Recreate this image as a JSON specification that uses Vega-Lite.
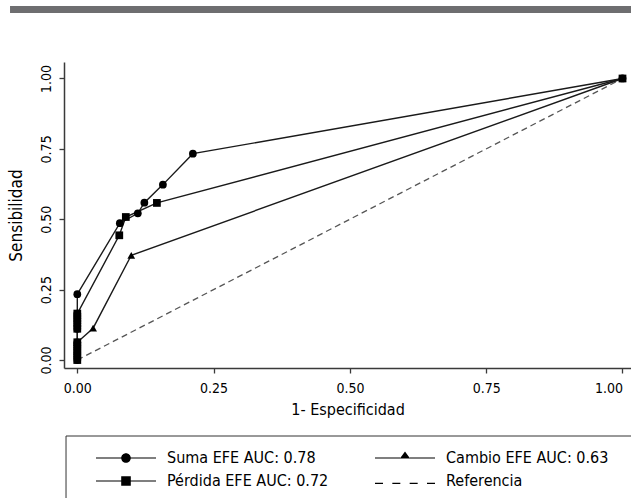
{
  "$schema": "https://vega.github.io/schema/vega-lite/v6.json",
  "width": 567,
  "height": 306,
  "autosize": {"type": "none"},
  "padding": {"left": 64, "top": 62, "right": 0, "bottom": 130},
  "background": "white",
  "config": {
    "view": {"stroke": null},
    "font": "Liberation Sans Narrow, DejaVu Sans Condensed, sans-serif"
  },
  "datasets": {
    "roc": [
      {"series": "Cambio EFE AUC: 0.63", "fpr": 0, "tpr": 0},
      {"series": "Cambio EFE AUC: 0.63", "fpr": 0, "tpr": 0.032},
      {"series": "Cambio EFE AUC: 0.63", "fpr": 0, "tpr": 0.063},
      {"series": "Cambio EFE AUC: 0.63", "fpr": 0.029, "tpr": 0.113},
      {"series": "Cambio EFE AUC: 0.63", "fpr": 0.099, "tpr": 0.372},
      {"series": "Cambio EFE AUC: 0.63", "fpr": 1, "tpr": 1},
      {"series": "Suma EFE AUC: 0.78", "fpr": 0, "tpr": 0},
      {"series": "Suma EFE AUC: 0.78", "fpr": 0, "tpr": 0.016},
      {"series": "Suma EFE AUC: 0.78", "fpr": 0, "tpr": 0.032},
      {"series": "Suma EFE AUC: 0.78", "fpr": 0, "tpr": 0.048},
      {"series": "Suma EFE AUC: 0.78", "fpr": 0, "tpr": 0.063},
      {"series": "Suma EFE AUC: 0.78", "fpr": 0, "tpr": 0.111},
      {"series": "Suma EFE AUC: 0.78", "fpr": 0, "tpr": 0.13},
      {"series": "Suma EFE AUC: 0.78", "fpr": 0, "tpr": 0.148},
      {"series": "Suma EFE AUC: 0.78", "fpr": 0, "tpr": 0.165},
      {"series": "Suma EFE AUC: 0.78", "fpr": 0, "tpr": 0.234},
      {"series": "Suma EFE AUC: 0.78", "fpr": 0.078, "tpr": 0.486},
      {"series": "Suma EFE AUC: 0.78", "fpr": 0.111, "tpr": 0.521},
      {"series": "Suma EFE AUC: 0.78", "fpr": 0.123, "tpr": 0.559},
      {"series": "Suma EFE AUC: 0.78", "fpr": 0.157, "tpr": 0.623},
      {"series": "Suma EFE AUC: 0.78", "fpr": 0.212, "tpr": 0.733},
      {"series": "Suma EFE AUC: 0.78", "fpr": 1, "tpr": 1},
      {"series": "Pérdida EFE AUC: 0.72", "fpr": 0, "tpr": 0},
      {"series": "Pérdida EFE AUC: 0.72", "fpr": 0, "tpr": 0.016},
      {"series": "Pérdida EFE AUC: 0.72", "fpr": 0, "tpr": 0.032},
      {"series": "Pérdida EFE AUC: 0.72", "fpr": 0, "tpr": 0.048},
      {"series": "Pérdida EFE AUC: 0.72", "fpr": 0, "tpr": 0.063},
      {"series": "Pérdida EFE AUC: 0.72", "fpr": 0, "tpr": 0.111},
      {"series": "Pérdida EFE AUC: 0.72", "fpr": 0, "tpr": 0.13},
      {"series": "Pérdida EFE AUC: 0.72", "fpr": 0, "tpr": 0.148},
      {"series": "Pérdida EFE AUC: 0.72", "fpr": 0, "tpr": 0.165},
      {"series": "Pérdida EFE AUC: 0.72", "fpr": 0.077, "tpr": 0.443},
      {"series": "Pérdida EFE AUC: 0.72", "fpr": 0.089, "tpr": 0.508},
      {"series": "Pérdida EFE AUC: 0.72", "fpr": 0.146, "tpr": 0.558},
      {"series": "Pérdida EFE AUC: 0.72", "fpr": 1, "tpr": 1},
      {"series": "Referencia", "fpr": 0, "tpr": 0},
      {"series": "Referencia", "fpr": 1, "tpr": 1}
    ],
    "legend": [
      {"series": "Suma EFE AUC: 0.78"},
      {"series": "Pérdida EFE AUC: 0.72"},
      {"series": "Cambio EFE AUC: 0.63"},
      {"series": "Referencia"}
    ]
  },
  "layer": [
    {
      "data": {"values": [{"part": "banner"}]},
      "mark": {"type": "rule", "color": "#6e6e70", "strokeWidth": 7, "clip": false},
      "encoding": {
        "x": {"datum": -0.1234, "type": "quantitative", "scale": {"domain": [-0.0244, 1.0156], "nice": false, "zero": false}},
        "x2": {"datum": 1.05},
        "y": {"datum": 1.2451, "type": "quantitative", "scale": {"domain": [-0.0284, 1.0586], "nice": false, "zero": false}}
      }
    },
    {
      "data": {"values": [{"part": "box"}]},
      "mark": {"type": "rect", "fill": "white", "fillOpacity": 0, "stroke": "#333333", "strokeWidth": 1, "clip": false},
      "encoding": {
        "x": {"datum": -0.0207, "type": "quantitative", "scale": {"domain": [-0.0244, 1.0156], "nice": false, "zero": false}},
        "x2": {"datum": 1.2},
        "y": {"datum": -0.27, "type": "quantitative", "scale": {"domain": [-0.0284, 1.0586], "nice": false, "zero": false}},
        "y2": {"datum": -1}
      }
    },
    {
      "data": {"name": "roc"},
      "transform": [{"filter": "datum.series === 'Referencia'"}],
      "mark": {"type": "line", "color": "#555555", "strokeWidth": 1.3, "strokeDash": [6, 4]},
      "encoding": {
        "x": {"field": "fpr", "type": "quantitative", "scale": {"domain": [-0.0244, 1.0156], "nice": false, "zero": false}},
        "y": {"field": "tpr", "type": "quantitative", "scale": {"domain": [-0.0284, 1.0586], "nice": false, "zero": false}}
      }
    },
    {
      "data": {"name": "roc"},
      "transform": [{"filter": "datum.series !== 'Referencia'"}],
      "mark": {"type": "line", "color": "#1a1a1a", "strokeWidth": 1.4},
      "encoding": {
        "x": {
          "field": "fpr",
          "type": "quantitative",
          "scale": {"domain": [-0.0244, 1.0156], "nice": false, "zero": false},
          "axis": {
            "values": [0, 0.25, 0.5, 0.75, 1],
            "format": ".2f",
            "title": "1- Especificidad",
            "grid": false,
            "domainColor": "#3a3a3a",
            "domainWidth": 1.5,
            "tickColor": "#3a3a3a",
            "tickWidth": 1.3,
            "tickSize": 5,
            "labelFontSize": 14,
            "labelColor": "black",
            "labelPadding": 8,
            "labelFlush": 10,
            "labelOverlap": false,
            "titleFontSize": 16,
            "titleFontWeight": "normal",
            "titleColor": "black",
            "titlePadding": 6
          }
        },
        "y": {
          "field": "tpr",
          "type": "quantitative",
          "scale": {"domain": [-0.0284, 1.0586], "nice": false, "zero": false},
          "axis": {
            "values": [0, 0.25, 0.5, 0.75, 1],
            "format": ".2f",
            "title": "Sensibilidad",
            "grid": false,
            "domainColor": "#3a3a3a",
            "domainWidth": 1.5,
            "tickColor": "#3a3a3a",
            "tickWidth": 1.3,
            "tickSize": 5,
            "labelFontSize": 14,
            "labelColor": "black",
            "labelAngle": 270,
            "labelAlign": "center",
            "labelBaseline": "bottom",
            "labelPadding": 6,
            "labelFlush": false,
            "labelOverlap": false,
            "titleFontSize": 17,
            "titleFontWeight": "normal",
            "titleColor": "black",
            "titlePadding": 14
          }
        },
        "detail": {"field": "series"},
        "order": {"field": "tpr", "type": "quantitative"}
      }
    },
    {
      "data": {"name": "roc"},
      "transform": [{"filter": "datum.series !== 'Referencia'"}],
      "mark": {"type": "point", "filled": true, "color": "black", "size": 60, "opacity": 1},
      "encoding": {
        "x": {"field": "fpr", "type": "quantitative", "scale": {"domain": [-0.0244, 1.0156], "nice": false, "zero": false}},
        "y": {"field": "tpr", "type": "quantitative", "scale": {"domain": [-0.0284, 1.0586], "nice": false, "zero": false}},
        "shape": {
          "field": "series",
          "type": "nominal",
          "scale": {
            "domain": ["Suma EFE AUC: 0.78", "Pérdida EFE AUC: 0.72", "Cambio EFE AUC: 0.63"],
            "range": ["circle", "square", "triangle-up"]
          },
          "legend": null
        }
      }
    },
    {
      "data": {"name": "legend"},
      "mark": {"type": "point", "filled": true, "color": "black", "size": 144, "opacity": 1, "clip": true},
      "encoding": {
        "x": {"datum": -5, "type": "quantitative", "scale": {"domain": [-0.0244, 1.0156], "nice": false, "zero": false}},
        "y": {"datum": -5, "type": "quantitative", "scale": {"domain": [-0.0284, 1.0586], "nice": false, "zero": false}},
        "shape": {
          "field": "series",
          "type": "nominal",
          "scale": {
            "domain": ["Suma EFE AUC: 0.78", "Pérdida EFE AUC: 0.72", "Cambio EFE AUC: 0.63", "Referencia"],
            "range": [
              "M-5,-0.1H-0.7V0.1H-5ZM0.7,-0.1H5V0.1H0.7ZM-0.8,0A0.8,0.8,0,1,1,0.8,0A0.8,0.8,0,1,1,-0.8,0Z",
              "M-5,-0.1H-0.8V0.1H-5ZM0.8,-0.1H5V0.1H0.8ZM-0.8,-0.8H0.8V0.8H-0.8Z",
              "M-5,-0.1H-0.8V0.1H-5ZM0.8,-0.1H5V0.1H0.8ZM-0.85,0.1L0,-1.1L0.85,0.1Z",
              "M-5,0.3H-3.667V0.5H-5ZM-2.111,0.3H-0.778V0.5H-2.111ZM0.778,0.3H2.111V0.5H0.778ZM3.667,0.3H5V0.5H3.667Z"
            ]
          },
          "legend": {
            "orient": "none",
            "legendX": 32,
            "legendY": 388,
            "columns": 2,
            "title": null,
            "padding": 0,
            "symbolSize": 144,
            "symbolOffset": 22,
            "labelOffset": 33,
            "labelFontSize": 16,
            "labelColor": "black",
            "labelLimit": 400,
            "rowPadding": 7,
            "columnPadding": 46,
            "symbolStrokeWidth": 0,
            "symbolFillColor": "black",
            "symbolOpacity": 1
          }
        }
      }
    }
  ],
  "resolve": {"scale": {"shape": "independent"}}
}
